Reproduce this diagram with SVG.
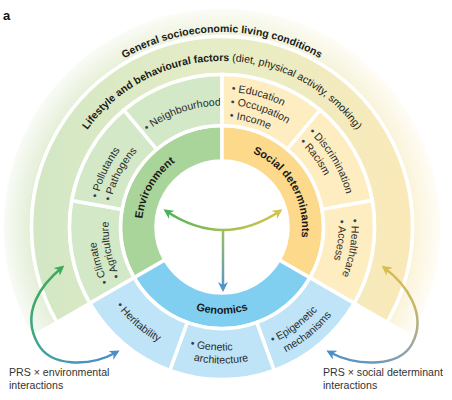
<svg xmlns="http://www.w3.org/2000/svg" width="452" height="400" viewBox="0 0 452 400">
<style>
.cell{stroke:#fff;stroke-width:3.5;stroke-linejoin:miter}
.env-in{fill:#a9d59b}.soc-in{fill:#fdd98b}.gen-in{fill:#80cff1}
.env{fill:#d3e8c7}.soc{fill:#fdedc0}.gen{fill:#bfe4f7}
.lbl{font-family:"Liberation Sans",Arial,sans-serif;font-weight:700;font-size:11px;fill:#1a1a1a}
.ring{font-family:"Liberation Sans",Arial,sans-serif;font-size:10.5px;fill:#1a1a1a}
.item{font-family:"Liberation Sans",Arial,sans-serif;font-size:10.6px;fill:#2b2b2b}
.dot{fill:#2d3f5e}
.b{font-weight:700}
.conn{fill:none;stroke-width:2.5}
</style>
<defs>
<linearGradient id="gLife" gradientUnits="userSpaceOnUse" x1="40" y1="0" x2="410" y2="0">
<stop offset="0" stop-color="#d3e7c4"/><stop offset="0.5" stop-color="#e6edc6"/><stop offset="1" stop-color="#fbe9b8"/>
</linearGradient>
<linearGradient id="gGen" gradientUnits="userSpaceOnUse" x1="10" y1="0" x2="440" y2="0">
<stop offset="0" stop-color="#e0edd4"/><stop offset="0.5" stop-color="#eef2d8"/><stop offset="1" stop-color="#fdf3d6"/>
</linearGradient>
<radialGradient id="gFade" gradientUnits="userSpaceOnUse" cx="222" cy="227" r="220">
<stop offset="0.86" stop-color="#fff" stop-opacity="0"/><stop offset="1" stop-color="#fff" stop-opacity="0.85"/>
</radialGradient>
<linearGradient id="gT" gradientUnits="userSpaceOnUse" x1="163" y1="0" x2="283" y2="0">
<stop offset="0" stop-color="#4cb25a"/><stop offset="0.5" stop-color="#9fc052"/><stop offset="1" stop-color="#d4c24a"/>
</linearGradient>
<linearGradient id="gStem" gradientUnits="userSpaceOnUse" x1="0" y1="230" x2="0" y2="292">
<stop offset="0" stop-color="#9dbf5e"/><stop offset="1" stop-color="#4f95cb"/>
</linearGradient>
<linearGradient id="gL" gradientUnits="userSpaceOnUse" x1="45" y1="275" x2="105" y2="365">
<stop offset="0" stop-color="#3aab5c"/><stop offset="0.45" stop-color="#3ea68a"/><stop offset="1" stop-color="#4a8fcb"/>
</linearGradient>
<linearGradient id="gR" gradientUnits="userSpaceOnUse" x1="400" y1="275" x2="340" y2="365">
<stop offset="0" stop-color="#d8bd50"/><stop offset="0.45" stop-color="#a3a99a"/><stop offset="1" stop-color="#4a8fcb"/>
</linearGradient>
<marker id="mGreen" viewBox="0 0 10 10" refX="7" refY="5" markerWidth="4" markerHeight="4" orient="auto-start-reverse"><path d="M0,0 L10,5 L0,10 L3,5 Z" fill="#4cb25a"/></marker>
<marker id="mGold" viewBox="0 0 10 10" refX="7" refY="5" markerWidth="4" markerHeight="4" orient="auto-start-reverse"><path d="M0,0 L10,5 L0,10 L3,5 Z" fill="#d4c24a"/></marker>
<marker id="mBlue" viewBox="0 0 10 10" refX="7" refY="5" markerWidth="4" markerHeight="4" orient="auto-start-reverse"><path d="M0,0 L10,5 L0,10 L3,5 Z" fill="#4f95cb"/></marker>
<marker id="mGreen2" viewBox="0 0 10 10" refX="7" refY="5" markerWidth="4" markerHeight="4" orient="auto-start-reverse"><path d="M0,0 L10,5 L0,10 L3,5 Z" fill="#3aab5c"/></marker>
<marker id="mGold2" viewBox="0 0 10 10" refX="7" refY="5" markerWidth="4" markerHeight="4" orient="auto-start-reverse"><path d="M0,0 L10,5 L0,10 L3,5 Z" fill="#d8bd50"/></marker>
<marker id="mBlue2" viewBox="0 0 10 10" refX="7" refY="5" markerWidth="4" markerHeight="4" orient="auto-start-reverse"><path d="M0,0 L10,5 L0,10 L3,5 Z" fill="#4a8fcb"/></marker>
<path id="tGeneral" d="M38.8,160.3 A195,195 0 0 1 405.2,160.3"/>
<path id="tLife" d="M66,170.2 A166,166 0 0 1 378,170.2"/>
<path id="tEnv" d="M152.7,267 A80,80 0 0 1 222,147"/>
<path id="tSoc" d="M222,147 A80,80 0 0 1 291.3,267"/>
<path id="tGenomics" d="M146.7,270.5 A87,87 0 0 0 297.3,270.5"/>
<path id="tNeigh" d="M147.2,131.3 A121.5,121.5 0 0 1 232.6,106"/>
<path id="tPoll" d="M97.8,198.3 A127.5,127.5 0 0 1 158.25,116.6"/>
<path id="tPath" d="M110.9,201.35 A114,114 0 0 1 165,128.3"/>
<path id="tClim" d="M108.3,282.5 A126.5,126.5 0 0 1 103.1,183.7"/>
<path id="tAgri" d="M120,276.8 A113.5,113.5 0 0 1 115.3,188.2"/>
<path id="tEdu" d="M231.5,91.8 A135.5,135.5 0 0 1 325.8,139.9"/>
<path id="tOcc" d="M230.5,105.3 A122,122 0 0 1 315.5,148.6"/>
<path id="tInc" d="M229.6,118.8 A108.5,108.5 0 0 1 305.1,157.3"/>
<path id="tDisc" d="M308.8,132.3 A128.5,128.5 0 0 1 348.5,249.3"/>
<path id="tRac" d="M299.4,142.6 A114.5,114.5 0 0 1 334.8,246.9"/>
<path id="tHealth" d="M351.3,219.1 A129.5,129.5 0 0 1 321.2,310.2"/>
<path id="tAcc" d="M338.3,219.9 A116.5,116.5 0 0 1 311.2,301.9"/>
<path id="tHer" d="M116.3,305.2 A131.5,131.5 0 0 0 244.8,356.5"/>
<path id="tGenet" d="M190,346.3 A123.5,123.5 0 0 0 301.4,321.6"/>
<path id="tArch" d="M193.6,360.5 A136.5,136.5 0 0 0 309.7,331.6"/>
<path id="tEpi" d="M272.4,343 A126.5,126.5 0 0 0 340.9,270.3"/>
<path id="tMech" d="M285.8,352.2 A140.5,140.5 0 0 0 354,275.1"/>
</defs>
<rect width="452" height="400" fill="#fff"/>
<text x="3" y="20" font-family="Liberation Sans, Arial, sans-serif" font-weight="700" font-size="13" fill="#111">a</text>

<g id="general">
<path class="cell" fill="url(#gGen)" d="M31.48,337 A220,220 0 1 1 412.52,337 L386.98,322.25 A190.5,190.5 0 1 0 57.02,322.25 Z"/>
<path fill="url(#gFade)" d="M31.48,337 A220,220 0 1 1 412.52,337 L386.98,322.25 A190.5,190.5 0 1 0 57.02,322.25 Z"/>
<text class="ring b"><textPath href="#tGeneral" startOffset="50%" text-anchor="middle">General socioeconomic living conditions</textPath></text>
</g>
<g id="lifestyle">
<path class="cell" fill="url(#gLife)" d="M57.02,322.25 A190.5,190.5 0 1 1 386.98,322.25 L354.07,303.25 A152.5,152.5 0 1 0 89.93,303.25 Z"/>
<text class="ring"><textPath href="#tLife" startOffset="50%" text-anchor="middle"><tspan class="b">Lifestyle and behavioural factors</tspan> (diet, physical activity, smoking)</textPath></text>
</g>

<g id="environment">
<path class="cell env-in" d="M134.1,277.75 A101.5,101.5 0 0 1 222,125.5 L222,161 A66,66 0 0 0 164.84,260 Z"/>
<text class="lbl"><textPath href="#tEnv" startOffset="50%" text-anchor="middle">Environment</textPath></text>
</g>
<g id="social-determinants">
<path class="cell soc-in" d="M222,125.5 A101.5,101.5 0 0 1 309.9,277.75 L279.16,260 A66,66 0 0 0 222,161 Z"/>
<text class="lbl"><textPath href="#tSoc" startOffset="50%" text-anchor="middle">Social determinants</textPath></text>
</g>
<g id="genomics">
<path class="cell gen-in" d="M309.9,277.75 A101.5,101.5 0 0 1 134.1,277.75 L164.84,260 A66,66 0 0 0 279.16,260 Z"/>
<text class="lbl"><textPath href="#tGenomics" startOffset="50%" text-anchor="middle">Genomics</textPath></text>
</g>

<g id="climate">
<path class="cell env" d="M89.93,303.25 A152.5,152.5 0 0 1 71.82,200.53 L122.04,209.38 A101.5,101.5 0 0 0 134.1,277.75 Z"/>
<text class="item"><textPath href="#tClim"><tspan class="dot">•</tspan> Climate</textPath></text>
<text class="item"><textPath href="#tAgri"><tspan class="dot">•</tspan> Agriculture</textPath></text>
</g>
<g id="pollutants">
<path class="cell env" d="M71.82,200.53 A152.5,152.5 0 0 1 123.97,110.18 L156.76,149.25 A101.5,101.5 0 0 0 122.04,209.38 Z"/>
<text class="item"><textPath href="#tPoll"><tspan class="dot">•</tspan> Pollutants</textPath></text>
<text class="item"><textPath href="#tPath"><tspan class="dot">•</tspan> Pathogens</textPath></text>
</g>
<g id="neighbourhood">
<path class="cell env" d="M123.97,110.18 A152.5,152.5 0 0 1 222,74.5 L222,125.5 A101.5,101.5 0 0 0 156.76,149.25 Z"/>
<text class="item"><textPath href="#tNeigh"><tspan class="dot">•</tspan> Neighbourhood</textPath></text>
</g>
<g id="education">
<path class="cell soc" d="M222,74.5 A152.5,152.5 0 0 1 320.03,110.18 L287.24,149.25 A101.5,101.5 0 0 0 222,125.5 Z"/>
<text class="item"><textPath href="#tEdu"><tspan class="dot">•</tspan> Education</textPath></text>
<text class="item"><textPath href="#tOcc"><tspan class="dot">•</tspan> Occupation</textPath></text>
<text class="item"><textPath href="#tInc"><tspan class="dot">•</tspan> Income</textPath></text>
</g>
<g id="discrimination">
<path class="cell soc" d="M320.03,110.18 A152.5,152.5 0 0 1 372.18,200.53 L321.96,209.38 A101.5,101.5 0 0 0 287.24,149.25 Z"/>
<text class="item"><textPath href="#tDisc"><tspan class="dot">•</tspan> Discrimination</textPath></text>
<text class="item"><textPath href="#tRac"><tspan class="dot">•</tspan> Racism</textPath></text>
</g>
<g id="healthcare">
<path class="cell soc" d="M372.18,200.53 A152.5,152.5 0 0 1 354.07,303.25 L309.9,277.75 A101.5,101.5 0 0 0 321.96,209.38 Z"/>
<text class="item"><textPath href="#tHealth"><tspan class="dot">•</tspan> Healthcare</textPath></text>
<text class="item"><textPath href="#tAcc"><tspan class="dot">•</tspan> Access</textPath></text>
</g>
<g id="epigenetic">
<path class="cell gen" d="M354.07,303.25 A152.5,152.5 0 0 1 274.16,370.3 L256.71,322.38 A101.5,101.5 0 0 0 309.9,277.75 Z"/>
<text class="item"><textPath href="#tEpi"><tspan class="dot">•</tspan> Epigenetic</textPath></text>
<text class="item"><textPath href="#tMech">mechanisms</textPath></text>
</g>
<g id="genetic-architecture">
<path class="cell gen" d="M274.16,370.3 A152.5,152.5 0 0 1 169.84,370.3 L187.29,322.38 A101.5,101.5 0 0 0 256.71,322.38 Z"/>
<text class="item"><textPath href="#tGenet"><tspan class="dot">•</tspan> Genetic</textPath></text>
<text class="item"><textPath href="#tArch">architecture</textPath></text>
</g>
<g id="heritability">
<path class="cell gen" d="M169.84,370.3 A152.5,152.5 0 0 1 89.93,303.25 L134.1,277.75 A101.5,101.5 0 0 0 187.29,322.38 Z"/>
<text class="item"><textPath href="#tHer"><tspan class="dot">•</tspan> Heritability</textPath></text>
</g>

<g id="connectors">
<path class="conn" stroke="url(#gT)" d="M166,211 Q223,249 280,211" marker-start="url(#mGreen)" marker-end="url(#mGold)"/>
<path class="conn" stroke="url(#gStem)" d="M223,229.5 L223,289" marker-end="url(#mBlue)"/>
<path class="conn" stroke="url(#gL)" d="M62,267.5 C42,284 20,312 38,344 C50,366 88,368 117,352" marker-start="url(#mGreen2)" marker-end="url(#mBlue2)"/>
<path class="conn" stroke="url(#gR)" d="M384,267.5 C406,284 428,314 412,344 C400,366 360,368 329,352" marker-start="url(#mGold2)" marker-end="url(#mBlue2)"/>
</g>

<g id="labels" font-family="Liberation Sans, Arial, sans-serif" font-size="10.6" fill="#333">
<text x="9" y="376">PRS × environmental</text>
<text x="9" y="389">interactions</text>
<text x="323" y="376">PRS × social determinant</text>
<text x="323" y="389">interactions</text>
</g>
</svg>
